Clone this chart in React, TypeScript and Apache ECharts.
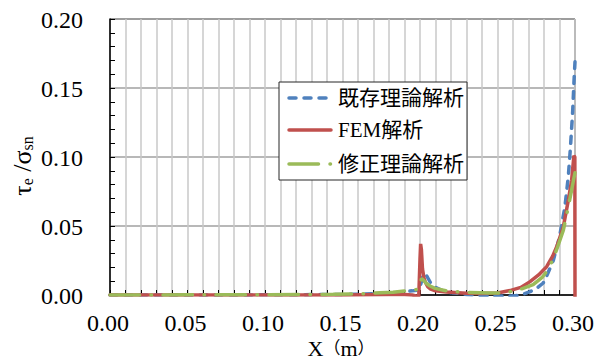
import React, { useEffect, useRef } from 'react';
import * as echarts from 'echarts';

const FONT = 'Liberation Serif, Noto Sans CJK JP, serif';

const seriesNames = ['既存理論解析', 'FEM解析', '修正理論解析'];
const seriesColors = ['#4F81BD', '#C0504D', '#9BBB59'];

// tick values shown on each axis
const xTicks = [0, 0.05, 0.1, 0.15, 0.2, 0.25, 0.3];
const yTicks = [0, 0.05, 0.1, 0.15, 0.2];

// 既存理論解析
const existingX = [0, 0.05, 0.1, 0.15, 0.17, 0.18, 0.185, 0.19, 0.195, 0.199, 0.2005, 0.202, 0.2035, 0.205, 0.207, 0.21, 0.215, 0.22, 0.23, 0.24, 0.25, 0.26, 0.265, 0.271, 0.2755, 0.2795, 0.282, 0.286, 0.29, 0.2935, 0.2957, 0.297, 0.2985, 0.2994, 0.3];
const existingY = [0, 0, 0.0001, 0.0004, 0.0009, 0.0014, 0.0018, 0.0024, 0.003, 0.0036, 0.008, 0.0145, 0.0155, 0.0125, 0.0085, 0.0055, 0.003, 0.0017, 0.0004, -0.0004, -0.0008, -0.0008, 0, 0.0024, 0.005, 0.0087, 0.0145, 0.025, 0.042, 0.064, 0.086, 0.106, 0.133, 0.156, 0.169];

// FEM解析
const femX = [0, 0.05, 0.1, 0.15, 0.18, 0.19, 0.195, 0.1992, 0.2, 0.2004, 0.2009, 0.2016, 0.2026, 0.2037, 0.205, 0.2065, 0.21, 0.217, 0.23, 0.24, 0.25, 0.258, 0.265, 0.271, 0.2765, 0.2817, 0.2855, 0.2882, 0.2925, 0.2957, 0.2978, 0.2993, 0.2999, 0.3];
const femY = [0, 0, 0, 0, 0.0003, 0.0004, 0, -0.0012, 0.026, 0.037, 0.033, 0.019, 0.012, 0.0087, 0.006, 0.0045, 0.003, 0.0022, 0.0012, 0.001, 0.0014, 0.0032, 0.0055, 0.0097, 0.0145, 0.0205, 0.028, 0.035, 0.0495, 0.0688, 0.083, 0.101, 0.1, -0.0015];

// 修正理論解析
const modifiedX = [0, 0.05, 0.1, 0.144, 0.165, 0.174, 0.1826, 0.191, 0.198, 0.1995, 0.201, 0.2025, 0.204, 0.2065, 0.2097, 0.217, 0.228, 0.2387, 0.245, 0.252, 0.262, 0.273, 0.279, 0.2817, 0.2855, 0.2882, 0.2925, 0.2957, 0.2978, 0.299, 0.3];
const modifiedY = [0, 0.0001, 0.0002, 0.0005, 0.001, 0.0017, 0.002, 0.003, 0.004, 0.0055, 0.012, 0.0105, 0.0085, 0.0065, 0.0048, 0.003, 0.002, 0.0017, 0.0015, 0.0015, 0.003, 0.0075, 0.013, 0.017, 0.025, 0.033, 0.047, 0.064, 0.076, 0.083, 0.0886];

const seriesX = [existingX, femX, modifiedX];
const seriesY = [existingY, femY, modifiedY];
const seriesDash: (number[] | 'solid')[] = [[7, 8], 'solid', [29.5, 11.5, 0.5, 11.5]];

const pairs = (xs: number[], ys: number[]) => xs.map((x, i) => [x, ys[i]]);

const LINE_W = 3.5;

// serif text token for rich-text labels
const token = (size: number, lineHeight: number) => ({ fontSize: size, fontFamily: FONT, fill: '#000', lineHeight });

export default function App() {
  const ref = useRef<HTMLDivElement>(null);

  useEffect(() => {
    if (!ref.current) return;
    const chart = echarts.init(ref.current, undefined, { renderer: 'svg' });

    const series = seriesNames.map((name, i) => ({
      type: 'line' as const,
      name,
      data: pairs(seriesX[i], seriesY[i]),
      symbol: 'none',
      showSymbol: false,
      itemStyle: { color: seriesColors[i] },
      lineStyle: { color: seriesColors[i], width: LINE_W, type: seriesDash[i], cap: 'round' },
    }));

    const axisCommon = {
      type: 'value' as const,
      axisLine: { show: true, onZero: false, lineStyle: { color: '#000', width: 1.5 } },
      axisTick: { show: true, inside: true, length: 5, lineStyle: { color: '#000', width: 1 } },
      minorTick: { show: true, splitNumber: 5, length: 5, lineStyle: { color: '#000', width: 1 } },
      axisLabel: { show: false },
    };

    chart.setOption({
      animation: false,
      grid: { left: 110, right: 21, top: 19, bottom: 64, show: true, borderColor: '#262626', borderWidth: 1 },
      xAxis: {
        ...axisCommon,
        min: 0,
        max: 0.3,
        interval: 0.05,
        splitLine: { show: true, lineStyle: { color: '#c8c8c8', width: 1.5 } },
        minorSplitLine: { show: true, lineStyle: { color: '#c8c8c8', width: 1.5 } },
      },
      yAxis: {
        ...axisCommon,
        min: 0,
        max: 0.2,
        interval: 0.05,
        splitLine: { show: true, lineStyle: { color: '#a0a0a0', width: 1.5 } },
        minorSplitLine: { show: false },
      },
      series,
    });

    // tick labels placed through the grid's own coordinate conversion
    const toPx = (x: number, y: number) => chart.convertToPixel({ gridIndex: 0 }, [x, y]) as number[];

    const xLabels = xTicks.map((v) => ({
      type: 'text',
      x: toPx(v, 0)[0] - 2,
      y: 323,
      style: {
        text: `{t|${v.toFixed(2)}}`,
        rich: { t: token(24, 18) },
        align: 'center',
        verticalAlign: 'middle',
      },
    }));
    const yLabels = yTicks.map((v) => ({
      type: 'text',
      x: 83,
      y: toPx(0, v)[1] + 1,
      style: {
        text: `{t|${v.toFixed(2)}}`,
        rich: { t: token(24, 18) },
        align: 'right',
        verticalAlign: 'middle',
      },
    }));

    // legend box
    const rowY = [98, 130, 164];
    const legendItems = seriesNames.flatMap((name, i) => [
      {
        type: 'line',
        shape: { x1: 289, y1: rowY[i], x2: 331, y2: rowY[i] },
        style: {
          stroke: seriesColors[i],
          lineWidth: LINE_W,
          lineCap: 'round',
          lineDash: seriesDash[i] === 'solid' ? null : seriesDash[i],
        },
      },
      {
        type: 'text',
        x: 338,
        y: rowY[i],
        style: {
          text: `{t|${name}}`,
          rich: { t: token(21, 22) },
          align: 'left',
          verticalAlign: 'middle',
        },
      },
    ]);

    chart.setOption({
      graphic: [
        ...xLabels,
        ...yLabels,
        {
          type: 'group',
          z: 100,
          children: [
            {
              type: 'rect',
              shape: { x: 279, y: 82, width: 188, height: 98 },
              style: { fill: '#ffffff', stroke: '#262626', lineWidth: 1 },
            },
            ...legendItems,
          ],
        },
        {
          type: 'text',
          x: 341,
          y: 348,
          style: {
            text: '{a|X}{p|（}{a|m}{p|）}',
            align: 'center',
            verticalAlign: 'middle',
            rich: { a: token(22, 18), p: token(17, 18) },
          },
        },
        {
          type: 'text',
          x: 22,
          y: 166,
          rotation: Math.PI / 2,
          style: {
            text: '{a|τ}{s|e}{a| /σ}{s|sn}',
            align: 'center',
            verticalAlign: 'middle',
            rich: {
              a: token(26, 26),
              s: { ...token(16, 10), verticalAlign: 'bottom' },
            },
          },
        },
      ],
    });

    return () => chart.dispose();
  }, []);

  return (
    <div
      ref={ref}
      style={{ position: 'fixed', left: 0, top: 0, width: 596, height: 359, background: '#fff' }}
    />
  );
}
